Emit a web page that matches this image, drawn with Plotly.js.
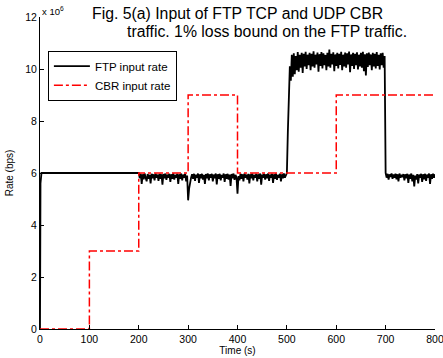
<!DOCTYPE html>
<html>
<head>
<meta charset="utf-8">
<script src="https://cdn.plot.ly/plotly-3.0.1.min.js"></script>
<style>html,body{margin:0;padding:0;background:#fff;}#chart{width:443px;height:358px;}</style>
</head>
<body>
<div id="chart"></div>
<script>
// Rates in units of 10^6 bps
const ftpHeadTime = [0, 1, 3, 198];
const ftpHeadRate = [0, 5.6, 6.0, 6.0];
const ftpStep = 2;
const ftpSeg1Start = 200;
const ftpSeg1Rate = [
  6.00, 5.80, 5.97, 5.58, 5.95, 5.76, 5.98, 5.82, 5.68, 5.96,
  5.78, 5.93, 5.60, 5.97, 5.80, 5.95, 5.72, 5.98, 5.82, 5.94,
  5.70, 5.97, 5.78, 5.95, 5.55, 5.96, 5.80, 5.98, 5.74, 5.94,
  5.82, 5.97, 5.66, 5.95, 5.78, 5.98, 5.75, 5.93, 5.82, 5.97,
  5.58, 5.95, 5.78, 5.98, 5.72, 5.94, 5.82, 5.97, 5.68, 5.90
];
const ftpSeg2Start = 300;
const ftpSeg2Rate = [
  4.95, 5.40, 5.70, 5.82, 5.95, 5.78, 5.97, 5.70, 5.94, 5.82,
  5.98, 5.62, 5.95, 5.80, 5.97, 5.75, 5.93, 5.58, 5.96, 5.80,
  5.98, 5.72, 5.95, 5.82, 5.97, 5.68, 5.94, 5.80, 5.98, 5.56,
  5.95, 5.78, 5.97, 5.72, 5.93, 5.82, 5.98, 5.66, 5.95, 5.78,
  5.97, 5.75, 5.94, 5.50, 5.96, 5.80, 5.98, 5.74, 5.93, 5.82,
  5.20, 5.88, 5.72, 5.97, 5.78, 5.95, 5.68, 5.98, 5.82, 5.94,
  5.75, 5.97, 5.60, 5.95, 5.80, 5.98, 5.72, 5.93, 5.82, 5.97,
  5.68, 5.95, 5.78, 5.98, 5.55, 5.94, 5.82, 5.97, 5.75, 5.95,
  5.80, 5.98, 5.70, 5.94, 5.82, 5.97, 5.62, 5.95, 5.78, 5.98,
  5.74, 5.93, 5.82, 5.97, 5.68, 5.95, 5.80, 5.98, 5.82, 5.96
];
const ftpSeg3Start = 500;
const ftpSeg3Rate = [
  6.00, 7.60, 9.10, 10.10, 9.55, 10.55, 9.70, 10.60, 9.80, 10.50,
  9.95, 10.65, 9.90, 10.55, 10.05, 10.62, 9.85, 10.58, 10.10, 10.66,
  10.00, 10.55, 10.15, 10.62, 9.95, 10.58, 10.10, 10.68, 10.05, 10.55,
  10.18, 10.63, 9.90, 10.57, 10.12, 10.65, 10.02, 10.60, 10.15, 10.54,
  9.95, 10.62, 10.10, 10.75, 10.05, 10.58, 10.18, 10.64, 9.92, 10.56,
  10.12, 10.62, 10.02, 10.58, 10.16, 10.66, 9.95, 10.55, 10.10, 10.63,
  10.05, 10.60, 10.18, 10.67, 9.88, 10.56, 10.12, 10.62, 10.00, 10.58,
  10.15, 10.64, 9.98, 10.55, 10.10, 10.62, 10.05, 10.66, 9.92, 10.57,
  9.75, 10.60, 10.08, 10.63, 10.15, 10.56, 9.95, 10.62, 10.10, 10.58,
  10.02, 10.65, 10.12, 10.55, 9.98, 10.60, 10.15, 10.62, 10.05, 10.50
];
const ftpSeg4Start = 700;
const ftpSeg4Rate = [
  6.00, 5.82, 5.97, 5.75, 5.95, 5.85, 5.98, 5.78, 5.94, 5.82,
  5.97, 5.76, 5.95, 5.68, 5.98, 5.82, 5.93, 5.84, 5.96, 5.72,
  5.95, 5.80, 5.97, 5.62, 5.94, 5.78, 5.98, 5.68, 5.93, 5.48,
  5.90, 5.75, 5.96, 5.60, 5.94, 5.82, 5.97, 5.66, 5.95, 5.76,
  5.97, 5.70, 5.94, 5.82, 5.98, 5.58, 5.95, 5.78, 5.97, 5.82,
  5.95
];
const cbrTime = [0, 100, 200, 300, 400, 600, 800];
const cbrRate = [0, 3, 6, 9, 6, 9, 9];
const xTicks = [0, 100, 200, 300, 400, 500, 600, 700, 800];
const yTicks = [0, 2, 4, 6, 8, 10, 12];

const ftpTime = [], ftpRate = [];
ftpHeadTime.forEach((t, i) => { ftpTime.push(t); ftpRate.push(ftpHeadRate[i]); });
[[ftpSeg1Start, ftpSeg1Rate], [ftpSeg2Start, ftpSeg2Rate], [ftpSeg3Start, ftpSeg3Rate], [ftpSeg4Start, ftpSeg4Rate]]
  .forEach(([s, arr]) => arr.forEach((v, i) => { ftpTime.push(s + i * ftpStep); ftpRate.push(v); }));

const FONT = 'Liberation Sans, Arial, Helvetica, sans-serif';
const traces = [
  {x: ftpTime, y: ftpRate, type: 'scatter', mode: 'lines', name: 'FTP input rate',
   line: {color: '#000', width: 1.8}},
  {x: cbrTime, y: cbrRate, type: 'scatter', mode: 'lines', name: 'CBR input rate',
   line: {color: '#ff0000', width: 1.5, dash: 'dashdot', shape: 'hv'}}
];
const layout = {
  width: 443, height: 358,
  margin: {l: 40, r: 8, t: 17, b: 29},
  paper_bgcolor: '#fff', plot_bgcolor: '#fff',
  font: {family: FONT, size: 10, color: '#000'},
  showlegend: true,
  legend: {x: 0.02, y: 0.892, xanchor: 'left', yanchor: 'top', bgcolor: '#fff',
           bordercolor: '#000', borderwidth: 1, font: {size: 11.5, family: FONT},
           tracegroupgap: 0, itemwidth: 36},
  xaxis: {range: [0, 800], tickvals: xTicks, ticks: 'inside', ticklen: 4, tickcolor: '#000',
          showline: true, linecolor: '#000', linewidth: 1, showgrid: false, zeroline: false,
          ticklabeloverflow: 'allow',
          title: {text: 'Time (s)', font: {size: 10}, standoff: 0}, tickfont: {size: 10.5}},
  yaxis: {range: [0, 12], tickvals: yTicks, ticks: 'inside', ticklen: 4, tickcolor: '#000',
          showline: true, linecolor: '#000', linewidth: 1, showgrid: false, zeroline: false,
          title: {text: 'Rate (bps)', font: {size: 10}, standoff: 9}, tickfont: {size: 10.5}},
  annotations: [
    {text: 'Fig. 5(a) Input of FTP TCP and UDP CBR', xref: 'paper', yref: 'paper',
     x: 0.1266, y: 1.0128, xanchor: 'left', yanchor: 'middle', showarrow: false, font: {size: 15.8}},
    {text: 'traffic. 1% loss bound on the FTP traffic.', xref: 'paper', yref: 'paper',
     x: 0.215, y: 0.952, xanchor: 'left', yanchor: 'middle', showarrow: false, font: {size: 15.8}},
    {text: 'x 10<sup>6</sup>', xref: 'paper', yref: 'paper',
     x: 0.0, y: 1.02, xanchor: 'left', yanchor: 'middle', showarrow: false, font: {size: 9.5}}
  ]
};
Plotly.newPlot('chart', traces, layout, {displayModeBar: false, staticPlot: true});
</script>
</body>
</html>
